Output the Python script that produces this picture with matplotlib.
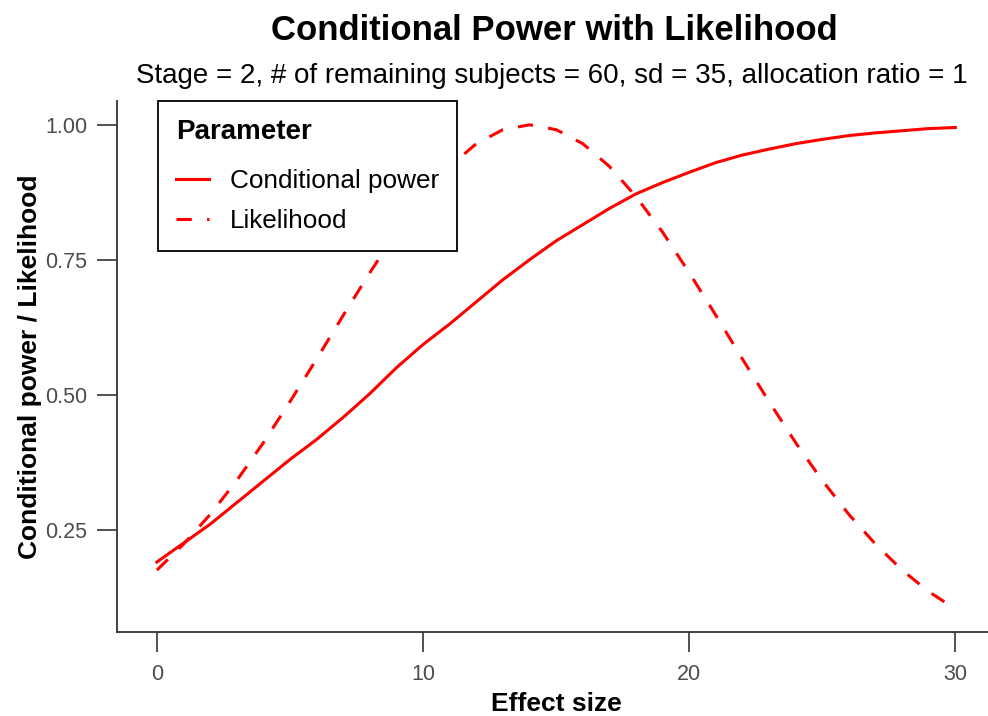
import matplotlib
matplotlib.use("Agg")
import matplotlib.pyplot as plt

plt.rcParams['font.family'] = ['Liberation Sans', 'DejaVu Sans']

# values
effect_size = [0, 1, 2, 3, 4, 5, 6, 7, 8, 9, 10, 11, 12, 13, 14, 15,
               16, 17, 18, 19, 20, 21, 22, 23, 24, 25, 26, 27, 28, 29, 30]
cond_power = [0.190, 0.225, 0.260, 0.300, 0.340, 0.380, 0.417, 0.458, 0.502, 0.550,
              0.593, 0.631, 0.672, 0.713, 0.750, 0.785, 0.815, 0.845, 0.872, 0.893,
              0.912, 0.930, 0.944, 0.955, 0.965, 0.973, 0.980, 0.985, 0.989, 0.993, 0.995]
likelihood = [0.175, 0.223, 0.278, 0.341, 0.411, 0.487, 0.566, 0.647, 0.726, 0.801,
              0.867, 0.923, 0.965, 0.991, 1.000, 0.991, 0.965, 0.923, 0.867, 0.801,
              0.726, 0.647, 0.566, 0.487, 0.411, 0.341, 0.278, 0.223, 0.175, 0.135, 0.103]
x_ticks = [0, 10, 20, 30]
y_ticks = [0.25, 0.50, 0.75, 1.00]
y_ticklabels = ['0.25', '0.50', '0.75', '1.00']

fig = plt.figure(figsize=(9.88, 7.16), dpi=100)
ax = fig.add_axes([0.1184, 0.1173, 0.889, 0.7421])

ax.plot(effect_size, cond_power, color='red', linewidth=2.2, label='Conditional power')
ax.plot(effect_size, likelihood, color='red', linewidth=2.2, dashes=(5, 5), label='Likelihood')

ax.set_xlim(-1.5, 31.5)
ax.set_ylim(0.0603, 1.0447)
ax.set_xticks(x_ticks)
ax.set_yticks(y_ticks)
ax.set_yticklabels(y_ticklabels)

for side in ['top', 'right']:
    ax.spines[side].set_visible(False)
for side in ['left', 'bottom']:
    ax.spines[side].set_linewidth(1.3)
    ax.spines[side].set_color('#333333')
ax.tick_params(length=14.5, width=1.2, color='#333333', labelcolor='#4D4D4D',
               labelsize=15.5)
ax.tick_params(axis='x', pad=8.5)
ax.tick_params(axis='y', pad=7)

ax.set_xlabel('Effect size', fontsize=19, fontweight='bold', labelpad=5)
ax.set_ylabel('Conditional power / Likelihood', fontsize=19, fontweight='bold', labelpad=2)

fig.text(0.5607, 0.957, 'Conditional Power with Likelihood', ha='center', va='center',
         fontsize=25, fontweight='bold')
fig.text(0.559, 0.894, 'Stage = 2, # of remaining subjects = 60, sd = 35, allocation ratio = 1',
         ha='center', va='center', fontsize=20)

leg = ax.legend(loc='upper left', bbox_to_anchor=(0.0467, 1.0), borderaxespad=0,
                title='Parameter', fontsize=18.8,
                title_fontproperties={'weight': 'bold', 'size': 20},
                fancybox=False, edgecolor='black', framealpha=1,
                handlelength=1.27, handletextpad=0.77, borderpad=0.7, labelspacing=0.6)
leg._legend_box.align = 'left'
leg._legend_box.sep = 17.5
leg.get_frame().set_linewidth(1.3)

fig.savefig('out.png', dpi=100)
